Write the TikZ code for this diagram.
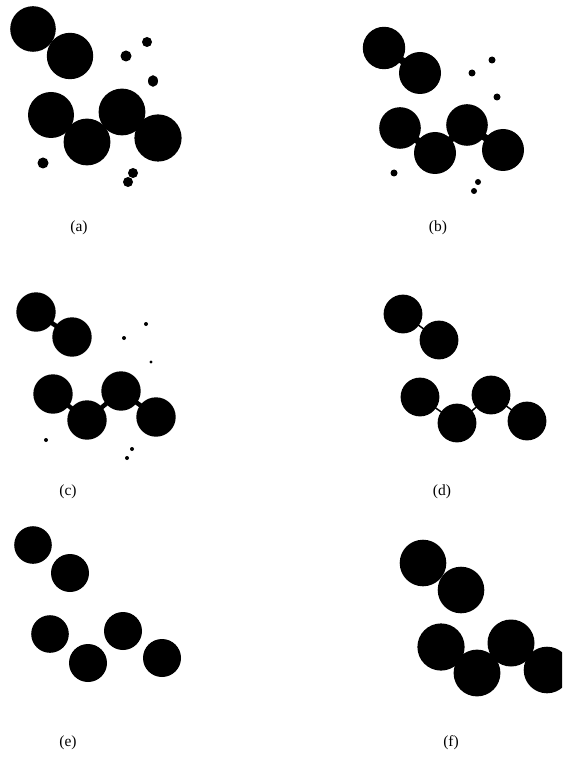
\documentclass[tikz,border=0pt]{standalone}
\usepackage{fontspec}
\setmainfont{Liberation Serif}
\usepackage{tikz}

\begin{document}
\begin{tikzpicture}[x=1pt, y=-1pt,
        blob/.style={fill=black},
        neck/.style={draw=black, line cap=round},
        panellabel/.style={align=center, inner sep=0pt, font=\fontsize{15.5}{18}\selectfont}]
\useasboundingbox (0,0) rectangle (562,759);
\clip (0,0) rectangle (562,759);
        \begin{scope}
% (a)
\fill[blob] (33,29) circle (22.8pt);
\fill[blob] (70,56) circle (23.2pt);
\fill[blob] (51,115) circle (23pt);
\fill[blob] (87,142) circle (23.4pt);
\fill[blob] (122,112) circle (23.4pt);
\fill[blob] (158,138) circle (23.6pt);
\fill[blob] (126,56) circle (5.5pt);
\fill[blob] (147,42) circle (5pt);
\fill[blob] (153,81) ellipse (5pt and 5.8pt);
\fill[blob] (43,163) circle (5.5pt);
\fill[blob] (133,173) circle (5pt);
\fill[blob] (128,182) circle (5pt);
\node[panellabel] (lbla) at (79,228) {(a)};
% (b)
\draw[neck, line width=7pt] (384,48) -- (420,73);
\draw[neck, line width=7pt] (400,128) -- (435,153);
\draw[neck, line width=7pt] (435,153) -- (467,125);
\draw[neck, line width=7pt] (467,125) -- (503,150);
\fill[blob] (384,48) circle (21.2pt);
\fill[blob] (420,73) circle (21pt);
\fill[blob] (400,128) circle (20.8pt);
\fill[blob] (435,153) circle (21pt);
\fill[blob] (467,125) circle (20.8pt);
\fill[blob] (503,150) circle (21pt);
\fill[blob] (492,60) circle (3.5pt);
\fill[blob] (472,73) circle (3.5pt);
\fill[blob] (497,97) circle (3.5pt);
\fill[blob] (394,173) circle (3.5pt);
\fill[blob] (478,182) circle (3pt);
\fill[blob] (474,191) circle (3pt);
\node[panellabel] (lblb) at (438,228) {(b)};
% (c)
\draw[neck, line width=4.5pt] (36,312) -- (72,337);
\draw[neck, line width=4.5pt] (53,394) -- (87,420);
\draw[neck, line width=4.5pt] (87,420) -- (121,391);
\draw[neck, line width=4.5pt] (121,391) -- (156,417);
\fill[blob] (36,312) circle (19.7pt);
\fill[blob] (72,337) circle (19.7pt);
\fill[blob] (53,394) circle (19.7pt);
\fill[blob] (87,420) circle (19.7pt);
\fill[blob] (121,391) circle (19.7pt);
\fill[blob] (156,417) circle (19.7pt);
\fill[blob] (146,324) circle (2pt);
\fill[blob] (124,338) circle (2pt);
\fill[blob] (151,362) circle (1.6pt);
\fill[blob] (46,440) circle (2pt);
\fill[blob] (132,449) circle (2pt);
\fill[blob] (127,458) circle (2pt);
\node[panellabel] (lblc) at (68,492) {(c)};
% (d)
\draw[neck, line width=1.5pt] (403,314) -- (439,340);
\draw[neck, line width=1.5pt] (420,397) -- (457,423);
\draw[neck, line width=1.5pt] (457,423) -- (491,395);
\draw[neck, line width=1.5pt] (491,395) -- (527,421);
\fill[blob] (403,314) circle (19.4pt);
\fill[blob] (439,340) circle (19.4pt);
\fill[blob] (420,397) circle (19.4pt);
\fill[blob] (457,423) circle (19.4pt);
\fill[blob] (491,395) circle (19.4pt);
\fill[blob] (527,421) circle (19.4pt);
\node[panellabel] (lbld) at (442,492) {(d)};
% (e)
\fill[blob] (33,545) circle (18.8pt);
\fill[blob] (70,573) circle (19pt);
\fill[blob] (50,634) circle (18.8pt);
\fill[blob] (88,663) circle (19pt);
\fill[blob] (123,631) circle (19pt);
\fill[blob] (162,658) circle (19pt);
\node[panellabel] (lble) at (68,743) {(e)};
% (f)
\fill[blob] (423,563) circle (23.3pt);
\fill[blob] (461,590) circle (23.3pt);
\fill[blob] (441,647) circle (23.6pt);
\fill[blob] (477,673) circle (23.4pt);
\fill[blob] (511,643) circle (23.5pt);
\fill[blob] (547,670) circle (23.3pt);
\node[panellabel] (lblf) at (451,743) {(f)};
        \end{scope}
\end{tikzpicture}
\end{document}
